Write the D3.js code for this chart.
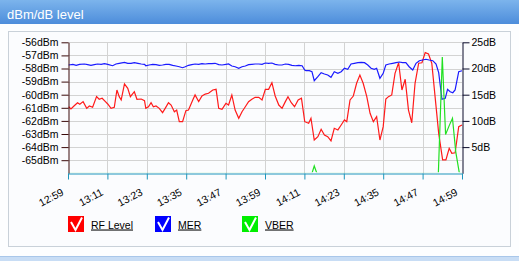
<!DOCTYPE html>
<html><head><meta charset="utf-8">
<script src="https://cdn.jsdelivr.net/npm/d3@7"></script>
<style>
html,body{margin:0;padding:0;background:#fff;}
svg{display:block;font-family:"Liberation Sans",Arial,sans-serif;}
</style></head>
<body>
<svg id="c" width="519" height="261"></svg>
<script>
// ---- data (minutes since 12:59) ----
const xTickLabels = ["12:59","13:11","13:23","13:35","13:47","13:59","14:11","14:23","14:35","14:47","14:59"];
const xTickMinutes = [0,12,24,36,48,60,72,84,96,108,120];
const leftTicks = [-65,-64,-63,-62,-61,-60,-59,-58,-57,-56];
const rightTicks = [5,10,15,20,25];

const rfTimes = [0.2,0.9,1.9,2.9,3.6,4.6,5.7,6.5,7.5,8.7,9.5,10.4,11.4,12.1,13.1,14.1,14.9,15.6,16.2,17.2,18.2,19.0,20.2,21.0,22.3,23.3,23.7,
 24.5,25.3,26.0,26.8,27.8,28.8,29.6,30.6,31.4,32.4,33.1,33.9,34.9,35.9,36.7,38.0,38.7,39.8,40.8,41.8,42.8,44.1,45.1,45.9,46.9,48.1,
 48.9,49.9,50.9,52.0,53.0,54.0,55.0,56.0,57.0,58.1,59.1,60.1,61.1,62.1,63.1,64.2,65.2,66.2,67.0,68.0,69.0,70.1,71.1,72.1,
 73.3,74.0,75.0,76.1,77.1,78.1,79.1,80.1,81.1,82.2,83.2,84.2,84.9,85.9,86.9,87.9,88.9,89.9,91.0,92.0,93.0,94.0,95.0,96.0,96.8,
 97.6,98.6,99.6,100.7,101.7,102.7,103.7,104.7,105.7,106.8,107.8,108.8,109.8,110.8,111.8,112.9,114.1,115.1,116.1,116.9,117.9,119.0,120.0];
const rfValues = [-60.92,-61.09,-60.84,-60.61,-60.73,-60.53,-61.04,-60.86,-60.96,-60.15,-60.35,-60.27,-60.53,-60.71,-61.04,-60.96,-59.64,-60.15,-60.40,-59.18,-59.51,-60.15,-59.77,-60.35,-60.33,-60.46,-61.04,
 -60.92,-60.61,-60.92,-60.86,-61.04,-61.37,-61.04,-60.61,-60.79,-61.30,-61.17,-62.06,-62.06,-61.22,-61.17,-60.40,-60.02,-60.53,-60.10,-59.95,-59.89,-59.64,-59.59,-61.04,-61.11,-60.66,
 -60.79,-60.02,-61.17,-61.80,-61.30,-60.92,-60.53,-60.35,-60.20,-60.20,-60.40,-59.59,-59.59,-59.08,-60.10,-60.79,-61.04,-60.53,-60.15,-60.61,-60.92,-60.40,-60.27,-62.06,
 -62.18,-61.80,-63.46,-63.21,-62.64,-63.08,-63.21,-63.53,-62.56,-62.69,-62.31,-61.93,-62.06,-60.40,-60.10,-59.13,-58.50,-59.13,-60.15,-61.42,-62.06,-61.68,-63.46,-62.44,-60.33,
 -60.15,-60.02,-58.37,-57.56,-59.64,-58.82,-61.17,-62.14,-59.13,-57.60,-57.56,-56.79,-56.89,-57.60,-60.15,-62.95,-64.98,-64.98,-64.09,-64.47,-64.43,-62.44,-62.31];

const merTimes = [0.2,1.5,2.5,3.5,5.0,6.0,7.0,8.0,9.0,10.1,11.1,12.1,13.6,14.6,15.6,17.2,18.2,19.2,20.2,21.3,22.3,23.3,23.7,
 24.7,25.8,26.8,27.8,28.8,29.8,30.8,31.9,32.9,33.9,34.9,35.7,36.7,37.7,38.7,39.8,40.8,41.8,42.8,43.8,44.8,45.9,46.9,48.1,
 48.9,49.9,50.9,52.0,53.0,54.0,55.0,56.0,57.0,58.1,59.1,60.1,61.1,62.1,63.1,64.2,65.2,66.2,67.2,68.2,69.2,70.3,71.3,72.1,
 72.5,73.5,74.3,75.0,76.1,77.1,78.1,79.1,80.1,81.1,82.2,83.2,84.2,85.2,86.2,87.2,88.3,89.3,90.3,91.3,92.3,93.3,94.0,95.0,96.0,96.8,
 97.8,98.9,99.9,100.9,101.9,102.9,103.9,105.0,106.0,107.0,108.0,109.0,110.0,111.1,112.1,112.9,113.9,114.9,115.6,116.4,117.2,117.9,119.0,120.0];
const merValues = [20.67,20.80,20.61,20.80,20.86,20.73,20.61,20.73,20.86,20.80,20.92,20.80,20.53,20.86,20.99,21.18,20.99,20.99,21.11,20.99,20.86,20.80,20.53,
 20.67,20.80,20.73,20.61,20.67,20.80,20.80,20.61,20.48,20.34,20.15,20.34,20.61,20.73,20.86,20.80,20.92,20.86,20.92,20.92,20.99,20.73,20.67,20.80,
 20.86,20.48,20.34,20.04,20.34,20.48,20.73,20.80,20.86,20.86,20.80,21.05,20.99,21.05,20.80,20.67,20.67,20.86,20.80,20.61,20.53,20.61,20.53,19.71,
 19.58,19.58,19.39,17.67,18.44,19.20,18.95,18.76,18.32,19.39,19.08,19.39,20.04,19.85,20.86,20.99,21.11,21.18,21.11,20.67,20.04,19.85,20.04,18.13,19.08,20.67,
 20.86,20.99,21.11,21.24,21.11,21.11,20.34,19.71,20.99,21.49,21.62,21.76,21.62,21.49,20.86,19.20,14.12,14.31,16.03,15.57,15.38,15.90,19.39,19.58];

const vberTimes = [0,74.3,75.0,75.8,112.8,114.0,115.0,116.1,117.1,118.1,119.2,120];
const vberValues = [0,0,1.4,0,0,22.2,7.4,9.1,10.5,4.1,0,0];

const legendNames = ["RF Level","MER","VBER"];
const legendColors = ["#ff0000","#0000ff","#00ee00"];

// ---- drawing ----
const svg = d3.select("#c");
const defs = svg.append("defs");
const g1 = defs.append("linearGradient").attr("id","tb").attr("x1",0).attr("y1",0).attr("x2",0).attr("y2",1);
g1.append("stop").attr("offset","0%").attr("stop-color","#7cb4ec");
g1.append("stop").attr("offset","100%").attr("stop-color","#4d8ddb");
defs.append("clipPath").attr("id","plotclip").append("rect")
  .attr("x",60).attr("y",30).attr("width",410).attr("height",142.3);

svg.append("rect").attr("x",0).attr("y",0).attr("width",519).attr("height",261).attr("fill","#fdfeff");
svg.append("rect").attr("x",0).attr("y",0).attr("width",519).attr("height",24).attr("fill","url(#tb)");
svg.append("text").attr("x",7).attr("y",19).attr("fill","#fff").attr("font-size",13).text("dBm/dB level");
svg.append("rect").attr("x",0).attr("y",256).attr("width",519).attr("height",5).attr("fill","#c8ddf5");
svg.append("line").attr("x1",0).attr("x2",519).attr("y1",256.5).attr("y2",256.5).attr("stroke","#a9c7ea");
svg.append("rect").attr("x",8.5).attr("y",31.5).attr("width",502).attr("height",215)
  .attr("fill","#fbfcfe").attr("stroke","#c9d1d9");

const x = d3.scaleLinear().domain([0,120]).range([68,462]);
const yL = d3.scaleLinear().domain([-66,-56]).range([173.3,42.3]);
const yR = d3.scaleLinear().domain([0,25]).range([173.3,42.3]);

// grid
const grid = svg.append("g").attr("stroke","#d3d3d3").attr("stroke-width",1);
grid.selectAll("line.h").data(leftTicks).join("line")
  .attr("x1",68).attr("x2",462).attr("y1",d=>Math.round(yL(d))+0.5).attr("y2",d=>Math.round(yL(d))+0.5);
grid.selectAll("line.v").data(xTickMinutes.slice(1,-1)).join("line")
  .attr("y1",42).attr("y2",173).attr("x1",d=>Math.round(x(d))+0.5).attr("x2",d=>Math.round(x(d))+0.5);

// lines
const plot = svg.append("g").attr("clip-path","url(#plotclip)");
const lineL = d3.line().x(d=>x(d[0])).y(d=>yL(d[1]));
const lineR = d3.line().x(d=>x(d[0])).y(d=>yR(d[1]));
plot.append("path").datum(d3.zip(rfTimes,rfValues)).attr("d",lineL)
  .attr("fill","none").attr("stroke","#ff1a1a").attr("stroke-width",1.2);
plot.append("path").datum(d3.zip(merTimes,merValues)).attr("d",lineR)
  .attr("fill","none").attr("stroke","#1a1aff").attr("stroke-width",1.2);
plot.append("path").datum(d3.zip(vberTimes,vberValues)).attr("d",lineR)
  .attr("fill","none").attr("stroke","#22e022").attr("stroke-width",1.2);

// axes
const fs = 10.5;
const axL = svg.append("g").attr("transform","translate(68.5,0)")
  .call(d3.axisLeft(yL).tickValues(leftTicks).tickFormat(d=>d+"dBm").tickSize(7).tickSizeOuter(0).tickPadding(3));
axL.selectAll("path,line").attr("stroke","#3a0a0a");
axL.selectAll("text").attr("font-size",fs).attr("fill","#000").attr("font-family","Liberation Sans, Arial, sans-serif");

const axR = svg.append("g").attr("transform","translate(462.5,0)")
  .call(d3.axisRight(yR).tickValues(rightTicks).tickFormat(d=>d+"dB").tickSize(7).tickSizeOuter(0).tickPadding(2));
axR.selectAll("path,line").attr("stroke","#0a0a2a");
axR.selectAll("text").attr("font-size",fs).attr("fill","#000").attr("font-family","Liberation Sans, Arial, sans-serif");

const axB = svg.append("g").attr("transform","translate(0,173.5)")
  .call(d3.axisBottom(x).tickValues(xTickMinutes).tickFormat((d,i)=>xTickLabels[i]).tickSize(6).tickSizeOuter(0));
axB.selectAll("path,line").attr("stroke","#1f95bb");
axB.selectAll("text").attr("font-size",fs).attr("fill","#000").attr("font-family","Liberation Sans, Arial, sans-serif")
  .attr("y",0).attr("dy",0).attr("text-anchor","end").attr("transform","translate(-4,21) rotate(-28)");

// legend
const lx = [68,155,242];
const lg = svg.append("g");
legendNames.forEach((n,i)=>{
  const gg = lg.append("g").attr("transform",`translate(${lx[i]},216)`);
  gg.append("rect").attr("width",16).attr("height",16).attr("fill",legendColors[i]);
  gg.append("path").attr("d","M3,6 L7.5,14 L14,1.5").attr("fill","none").attr("stroke","#fff").attr("stroke-width",2);
  gg.append("text").attr("x",23).attr("y",12.5).attr("font-size",fs).attr("fill","#000")
    .attr("text-decoration","underline").text(n);
});
</script>
</body></html>
